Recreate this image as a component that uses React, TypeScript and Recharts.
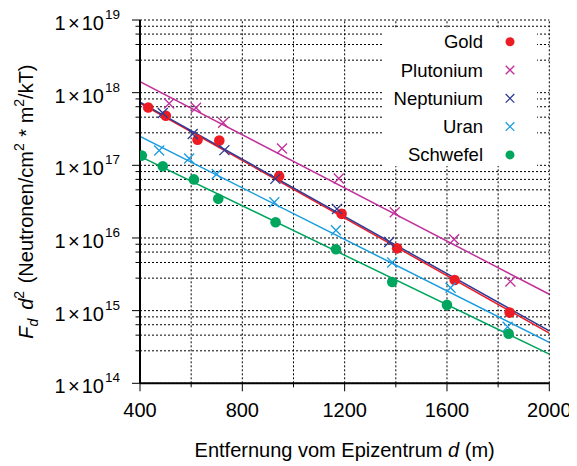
import React from 'react';
import { ComposedChart, XAxis, YAxis, Scatter, Line, ReferenceLine, Legend } from 'recharts';

const FONT = '"Liberation Sans", Arial, Helvetica, sans-serif';

// Measured points: distance from epicentre d (m) and F_d * d^2
const goldDistance = [432, 501, 625, 710, 944, 1188, 1405, 1630, 1845];
const goldValue = [6.25e17, 4.8e17, 2.25e17, 2.2e17, 7.1e16, 2.15e16, 7.2e15, 2.64e15, 9.4e14];

const plutoniumDistance = [514, 619, 725, 955, 1177, 1396, 1628, 1848];
const plutoniumValue = [7.1e17, 6.2e17, 3.85e17, 1.7e17, 6.6e16, 2.26e16, 9.6e15, 2.52e15];

const neptuniumDistance = [489, 606, 730, 929, 1170, 1374];
const neptuniumValue = [5.25e17, 2.7e17, 1.62e17, 6.5e16, 2.5e16, 8.8e15];

const uranDistance = [475, 592, 700, 925, 1166, 1386, 1614, 1837];
const uranValue = [1.6e17, 1.24e17, 7.6e16, 3.1e16, 1.28e16, 4.6e15, 2.06e15, 6.0e14];

const schwefelDistance = [407, 489, 611, 706, 930, 1166, 1386, 1600, 1841];
const schwefelValue = [1.36e17, 9.7e16, 6.4e16, 3.47e16, 1.65e16, 7.0e15, 2.48e15, 1.2e15, 4.8e14];

// Exponential fits, given by their values at the ends of the distance range
const fitDistance = [400, 2000];
const goldFitValue = [7.2e17, 4.9e14];
const plutoniumFitValue = [1.42e18, 1.68e15];
const neptuniumFitValue = [7.4e17, 5.27e14];
const uranFitValue = [2.5e17, 3.66e14];
const schwefelFitValue = [1.33e17, 2.52e14];

// Axis ticks and grid
const xTickValues = [400, 600, 800, 1000, 1200, 1400, 1600, 1800, 2000];
const xLabelStep = 400;
const yDecades = [1e14, 1e15, 1e16, 1e17, 1e18, 1e19];
const yMinorFactors = [2.8, 4.6, 6.4, 8.2];

const yTickValues: number[] = [];
yDecades.forEach((dec, i) => {
  yTickValues.push(dec);
  if (i < yDecades.length - 1) yMinorFactors.forEach((f) => yTickValues.push(f * dec));
});

const pairs = (ds: number[], vs: number[]) => ds.map((d, i) => ({ d, v: vs[i] }));

type Marker = 'dot' | 'cross';
const series: { name: string; color: string; marker: Marker; points: { d: number; v: number }[]; fit: { d: number; v: number }[] }[] = [
  { name: 'Gold', color: '#ec1c24', marker: 'dot', points: pairs(goldDistance, goldValue), fit: pairs(fitDistance, goldFitValue) },
  { name: 'Plutonium', color: '#c2309b', marker: 'cross', points: pairs(plutoniumDistance, plutoniumValue), fit: pairs(fitDistance, plutoniumFitValue) },
  { name: 'Neptunium', color: '#2e3a93', marker: 'cross', points: pairs(neptuniumDistance, neptuniumValue), fit: pairs(fitDistance, neptuniumFitValue) },
  { name: 'Uran', color: '#1b9ce0', marker: 'cross', points: pairs(uranDistance, uranValue), fit: pairs(fitDistance, uranFitValue) },
  { name: 'Schwefel', color: '#00a65e', marker: 'dot', points: pairs(schwefelDistance, schwefelValue), fit: pairs(fitDistance, schwefelFitValue) },
];

const crossPath = (cx: number, cy: number, s: number) =>
  `M${cx - s},${cy - s}L${cx + s},${cy + s}M${cx - s},${cy + s}L${cx + s},${cy - s}`;

const makeShape = (color: string, marker: Marker) => (props: any) => {
  const { cx, cy } = props;
  if (cx == null || cy == null) return <g />;
  if (marker === 'dot') return <circle cx={cx} cy={cy} r={5.3} fill={color} />;
  return <path d={crossPath(cx, cy, 5)} stroke={color} strokeWidth={1.3} fill="none" />;
};

const isDecade = (v: number) => Math.abs(Math.log10(v) - Math.round(Math.log10(v))) < 1e-6;

const YTick = (props: any) => {
  const { x, y, payload } = props;
  const major = isDecade(payload.value);
  const exp = Math.round(Math.log10(payload.value));
  return (
    <g>
      <line x1={x} x2={x - (major ? 8 : 4.5)} y1={y} y2={y} stroke="#000" strokeWidth={1} />
      {major && (
        <text x={x - 20} y={y + 10} textAnchor="end" fontFamily={FONT} fontSize={20} fill="#000">
          <tspan>1</tspan>
          <tspan dx={2.5}>×</tspan>
          <tspan dx={2}>10</tspan>
          <tspan dx={1} dy={-11} fontSize={13.5}>{exp}</tspan>
        </text>
      )}
    </g>
  );
};

const XTick = (props: any) => {
  const { x, y, payload } = props;
  const major = payload.value % xLabelStep === 0;
  return (
    <g>
      <line x1={x} x2={x} y1={y} y2={y + (major ? 8 : 4)} stroke="#000" strokeWidth={1} />
      {major && (
        <text x={x} y={y + 34} textAnchor="middle" fontFamily={FONT} fontSize={20} fill="#000">
          {payload.value}
        </text>
      )}
    </g>
  );
};

const XTitle = (props: any) => {
  const { viewBox } = props;
  const cx = viewBox.x + viewBox.width / 2;
  return (
    <text x={cx} y={viewBox.y + 74} textAnchor="middle" fontFamily={FONT} fontSize={20} fill="#000">
      Entfernung vom Epizentrum <tspan fontStyle="italic">d</tspan> (m)
    </text>
  );
};

const YTitle = (props: any) => {
  const { viewBox } = props;
  const cy = viewBox.y + viewBox.height / 2;
  const bx = 25.5;
  return (
    <text
      x={bx}
      y={cy}
      transform={`rotate(-90, ${bx}, ${cy})`}
      textAnchor="middle"
      fontFamily={FONT}
      fontSize={20}
      fill="#000"
    >
      <tspan fontStyle="italic">F</tspan>
      <tspan fontStyle="italic" fontSize={14} dy={5}>d</tspan>
      <tspan fontStyle="italic" dx={9} dy={-5}>d</tspan>
      <tspan fontSize={14} dy={-9}>2</tspan>
      <tspan dx={2} dy={9}> (Neutronen/cm</tspan>
      <tspan fontSize={14} dy={-9}>2</tspan>
      <tspan dx={1} dy={9}> * m</tspan>
      <tspan fontSize={14} dy={-9}>2</tspan>
      <tspan dy={9}>/kT)</tspan>
    </text>
  );
};

const LegendBox = () => (
  <div style={{ width: 155, height: 138, background: '#fff' }}>
    <svg width={155} height={138}>
      {series.map((s, i) => {
        const cy = 13.7 + 28.3 * i;
        return (
          <g key={s.name}>
            <text x={101} y={cy + 6.5} textAnchor="end" fontFamily={FONT} fontSize={18.5} fill="#000">
              {s.name}
            </text>
            {s.marker === 'dot' ? (
              <circle cx={128} cy={cy} r={4.5} fill={s.color} />
            ) : (
              <path d={crossPath(128, cy, 4.3)} stroke={s.color} strokeWidth={1.3} fill="none" />
            )}
          </g>
        );
      })}
    </svg>
  </div>
);

export default function App() {
  return (
    <ComposedChart width={569} height={458} margin={{ top: 12, right: 27.7, bottom: 32.7, left: 0 }}>
      <XAxis
        dataKey="d"
        type="number"
        domain={[400, 2000]}
        allowDataOverflow
        ticks={xTickValues}
        interval={0}
        tickSize={0}
        tickMargin={0}
        tickLine={false}
        tick={<XTick />}
        axisLine={{ stroke: '#000', strokeWidth: 2 }}
        height={50}
        label={<XTitle />}
      />
      <YAxis
        dataKey="v"
        type="number"
        scale="log"
        domain={[1e14, 1e19]}
        allowDataOverflow
        ticks={yTickValues}
        interval={0}
        tickSize={0}
        tickMargin={0}
        tickLine={false}
        tick={<YTick />}
        axisLine={{ stroke: '#000', strokeWidth: 2 }}
        width={132}
        label={<YTitle />}
      />
      {yTickValues.map((v) => (
        <ReferenceLine key={`gy${v}`} y={v} stroke="#000" strokeWidth={1} strokeDasharray="2 2" />
      ))}
      {xTickValues.map((v) => (
        <ReferenceLine key={`gx${v}`} x={v} stroke="#000" strokeWidth={1} strokeDasharray="2 2" />
      ))}
      {series.map((s) => (
        <Line
          key={`fit-${s.name}`}
          data={s.fit}
          dataKey="v"
          type="linear"
          stroke={s.color}
          strokeWidth={1.5}
          dot={false}
          activeDot={false}
          isAnimationActive={false}
          legendType="none"
        />
      ))}
      {series.map((s) => (
        <Scatter
          key={`pts-${s.name}`}
          name={s.name}
          data={s.points}
          dataKey="v"
          fill={s.color}
          shape={makeShape(s.color, s.marker)}
          isAnimationActive={false}
        />
      ))}
      <Legend
        layout="vertical"
        align="center"
        verticalAlign="middle"
        wrapperStyle={{ left: 374, top: 20, width: 155, height: 138 }}
        content={<LegendBox />}
      />
    </ComposedChart>
  );
}
